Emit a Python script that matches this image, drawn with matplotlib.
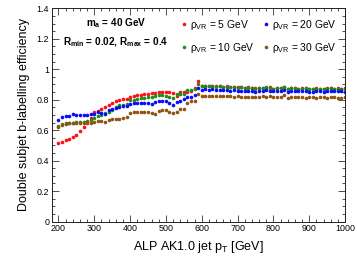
import numpy as np
import matplotlib
matplotlib.use("Agg")
import matplotlib.pyplot as plt
from matplotlib.ticker import MultipleLocator

plt.rcParams['font.family'] = ['Liberation Sans', 'DejaVu Sans']
plt.rcParams['mathtext.fontset'] = 'custom'
plt.rcParams['mathtext.rm'] = 'Liberation Sans'
plt.rcParams['mathtext.it'] = 'Liberation Sans:italic'
plt.rcParams['mathtext.bf'] = 'Liberation Sans:bold'

pt = list(range(200, 1001, 10))

eff_rho5 = [0.515, 0.525, 0.532, 0.545, 0.556, 0.571, 0.595, 0.618, 0.648, 0.681,
            0.716, 0.727, 0.736, 0.749, 0.763, 0.778, 0.788, 0.797, 0.803, 0.806,
            0.818, 0.826, 0.828, 0.830, 0.838, 0.840, 0.846, 0.842, 0.850, 0.852,
            0.853, 0.850, 0.842, 0.826, 0.848, 0.850, 0.852, 0.860, 0.874, 0.922,
            0.892, 0.893, 0.890, 0.892, 0.888, 0.890, 0.886, 0.887, 0.884, 0.885,
            0.880, 0.882, 0.878, 0.880, 0.875, 0.876, 0.874, 0.878, 0.876, 0.880,
            0.872, 0.878, 0.875, 0.880, 0.872, 0.878, 0.876, 0.872, 0.875, 0.878,
            0.870, 0.873, 0.876, 0.872, 0.870, 0.874, 0.878, 0.873, 0.875, 0.872,
            0.874]

eff_rho10 = [0.628, 0.640, 0.645, 0.648, 0.650, 0.651, 0.652, 0.655, 0.660, 0.668,
             0.680, 0.690, 0.700, 0.712, 0.722, 0.735, 0.750, 0.765, 0.768, 0.772,
             0.795, 0.800, 0.805, 0.810, 0.812, 0.815, 0.818, 0.822, 0.828, 0.830,
             0.826, 0.818, 0.812, 0.835, 0.836, 0.840, 0.862, 0.866, 0.870, 0.905,
             0.888, 0.890, 0.888, 0.890, 0.886, 0.888, 0.885, 0.884, 0.882, 0.882,
             0.878, 0.880, 0.876, 0.878, 0.874, 0.872, 0.875, 0.876, 0.880, 0.876,
             0.873, 0.877, 0.874, 0.882, 0.870, 0.876, 0.874, 0.870, 0.872, 0.876,
             0.870, 0.868, 0.873, 0.870, 0.868, 0.872, 0.875, 0.870, 0.872, 0.869,
             0.872]

eff_rho20 = [0.666, 0.684, 0.690, 0.694, 0.703, 0.700, 0.700, 0.700, 0.702, 0.705,
             0.706, 0.716, 0.712, 0.703, 0.730, 0.740, 0.745, 0.752, 0.760, 0.760,
             0.772, 0.775, 0.776, 0.778, 0.776, 0.780, 0.772, 0.785, 0.790, 0.790,
             0.788, 0.775, 0.768, 0.785, 0.792, 0.805, 0.818, 0.820, 0.830, 0.875,
             0.865, 0.868, 0.866, 0.868, 0.864, 0.865, 0.862, 0.864, 0.860, 0.862,
             0.858, 0.860, 0.856, 0.858, 0.855, 0.853, 0.856, 0.858, 0.862, 0.860,
             0.857, 0.860, 0.855, 0.866, 0.848, 0.860, 0.858, 0.855, 0.857, 0.858,
             0.852, 0.850, 0.855, 0.856, 0.852, 0.855, 0.860, 0.854, 0.856, 0.855,
             0.852]

eff_rho30 = [0.622, 0.636, 0.642, 0.645, 0.646, 0.647, 0.648, 0.650, 0.652, 0.650,
             0.655, 0.661, 0.658, 0.655, 0.668, 0.672, 0.670, 0.672, 0.680, 0.685,
             0.712, 0.718, 0.720, 0.718, 0.720, 0.722, 0.712, 0.705, 0.725, 0.732,
             0.730, 0.718, 0.712, 0.722, 0.736, 0.742, 0.780, 0.788, 0.792, 0.835,
             0.826, 0.824, 0.826, 0.825, 0.826, 0.824, 0.822, 0.822, 0.821, 0.820,
             0.822, 0.818, 0.815, 0.818, 0.820, 0.816, 0.818, 0.822, 0.820, 0.822,
             0.817, 0.818, 0.815, 0.828, 0.812, 0.816, 0.818, 0.820, 0.818, 0.812,
             0.818, 0.815, 0.810, 0.816, 0.818, 0.812, 0.815, 0.818, 0.814, 0.812,
             0.815]

labels = ['ρ$_{\\mathrm{VR}}$ = 5 GeV', 'ρ$_{\\mathrm{VR}}$ = 10 GeV',
          'ρ$_{\\mathrm{VR}}$ = 20 GeV', 'ρ$_{\\mathrm{VR}}$ = 30 GeV']
colors = ['#ff1010', '#1e8c1e', '#0a0aff', '#8c5512']
series = [eff_rho5, eff_rho10, eff_rho20, eff_rho30]

fig = plt.figure(figsize=(3.57, 2.75), dpi=100)
ax = fig.add_axes([52/357, 1-221.5/275, (345-52)/357, (221.5-8.3)/275])

handles = []
for lab, col, s in zip(labels, colors, series):
    h, = ax.plot(pt, s, linestyle='none', marker='o', ms=2.6, color=col, mew=0)
    handles.append(h)

ax.set_xlim(182, 1000)
ax.set_ylim(0, 1.4)
ax.xaxis.set_major_locator(MultipleLocator(100))
ax.xaxis.set_minor_locator(MultipleLocator(20))
ax.yaxis.set_major_locator(MultipleLocator(0.2))
ax.yaxis.set_minor_locator(MultipleLocator(0.05))
ax.yaxis.set_major_formatter(plt.FuncFormatter(lambda v, p: ('%g' % round(v, 2))))
ax.tick_params(which='both', direction='in', top=True, right=True, labelsize=6.4,
               width=0.6, colors='#333333', labelcolor='black', pad=2)
ax.tick_params(which='major', length=5)
ax.tick_params(which='minor', length=2.5)
for sp in ax.spines.values():
    sp.set_linewidth(0.7)
    sp.set_color('#222222')

ax.set_xlabel('ALP AK1.0 jet p$_{\\mathrm{T}}$ [GeV]', fontsize=9, labelpad=4)
ax.set_ylabel('Double subjet b-labelling efficiency', fontsize=9, labelpad=5)

ax.text(0.116, 0.931, 'm$_{\\mathbf{a}}$ = 40 GeV', transform=ax.transAxes,
        fontsize=7.2, fontweight='bold', va='center', ha='left')
ax.text(0.0375, 0.842, 'R$_{\\mathbf{min}}$ = 0.02, R$_{\\mathbf{max}}$ = 0.4', transform=ax.transAxes,
        fontsize=7.2, fontweight='bold', va='center', ha='left')

ax.legend(handles, labels, loc='upper left', bbox_to_anchor=(0.44, 0.955),
          ncol=2, frameon=False, fontsize=7.4, handlelength=0.6, handletextpad=0.3,
          columnspacing=0.75, labelspacing=0.85, borderpad=0, borderaxespad=0, markerscale=1.0)

fig.savefig('out.png', dpi=100)
